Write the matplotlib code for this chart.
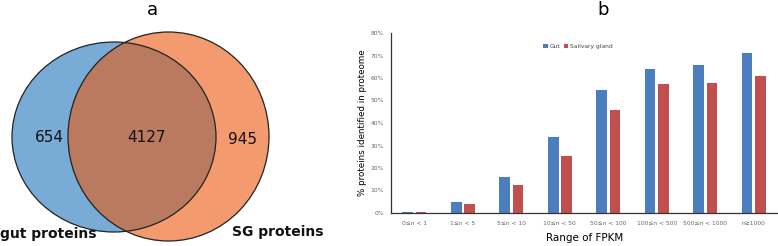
import matplotlib
matplotlib.use("Agg")
import matplotlib.pyplot as plt
from matplotlib.patches import Ellipse
import numpy as np

# Data
venn_labels = ["gut proteins", "SG proteins"]
venn_counts = [654, 4127, 945]  # gut only, shared, SG only

categories = ["0≤n < 1", "1≤n < 5", "5≤n < 10", "10≤n < 50", "50≤n < 100",
              "100≤n < 500", "500≤n < 1000", "n≥1000"]
gut = [0.5, 4.7, 16.0, 33.8, 54.8, 64.0, 65.9, 71.2]
salivary = [0.5, 4.1, 12.6, 25.2, 45.8, 57.5, 58.0, 60.7]
series_names = ["Gut", "Salivary gland"]

W, H = 778, 246
fig = plt.figure(figsize=(W / 100, H / 100), dpi=100)

# ---- Panel a: Venn ----
va = fig.add_axes([0, 0, 1, 1])
va.set_xlim(0, W)
va.set_ylim(H, 0)
va.axis("off")

blue_c = "#78acd6"
orange_c = "#f39b6e"
over_c = "#b97a5f"
e_blue = Ellipse((114, 137), 204, 190, facecolor=blue_c, edgecolor="none", zorder=1)
e_orange = Ellipse((168.5, 136.5), 201, 209, facecolor=orange_c, edgecolor="none", zorder=1)
va.add_patch(e_blue)
va.add_patch(e_orange)
e_over = Ellipse((114, 137), 204, 190, facecolor=over_c, edgecolor="none", zorder=2)
va.add_patch(e_over)
e_over.set_clip_path(e_orange)
va.add_patch(Ellipse((114, 137), 204, 190, facecolor="none", edgecolor="#222222", lw=0.9, zorder=3))
va.add_patch(Ellipse((168.5, 136.5), 201, 209, facecolor="none", edgecolor="#222222", lw=0.9, zorder=3))

va.text(49, 138, str(venn_counts[0]), ha="center", va="center", fontsize=11, color="#111111", zorder=4)
va.text(147, 138, str(venn_counts[1]), ha="center", va="center", fontsize=11, color="#111111", zorder=4)
va.text(243, 139, str(venn_counts[2]), ha="center", va="center", fontsize=11, color="#111111", zorder=4)
va.text(0, 234, venn_labels[0], ha="left", va="center", fontsize=10, fontweight="bold", color="#111111")
va.text(278, 232, venn_labels[1], ha="center", va="center", fontsize=10, fontweight="bold", color="#111111")
va.text(152, 10, "a", ha="center", va="center", fontsize=13)
va.text(603, 10, "b", ha="center", va="center", fontsize=13)

# ---- Panel b: bar chart ----
ax = fig.add_axes([391 / W, 1 - 213 / H, (778 - 391) / W, (213 - 33) / H])
x = np.arange(len(categories))
bw = 0.226
ax.bar(x - 0.139, gut, bw, color="#4a7ebf", label=series_names[0])
ax.bar(x + 0.139, salivary, bw, color="#c0504d", label=series_names[1])
ax.set_xlim(-0.48, len(categories) - 0.5)
ax.set_ylim(0, 80)
ax.set_yticks(np.arange(0, 81, 10))
ax.set_yticklabels([f"{v}%" for v in range(0, 81, 10)], fontsize=4.3, color="#666666")
ax.set_xticks(x)
ax.set_xticklabels(categories, fontsize=4.3, color="#666666")
ax.tick_params(axis="x", length=0, pad=6)
ax.tick_params(axis="y", length=0, pad=5)
for s in ["top", "right"]:
    ax.spines[s].set_visible(False)
ax.spines["left"].set_color("#333333")
ax.spines["bottom"].set_color("#333333")
ax.spines["left"].set_linewidth(0.9)
ax.spines["bottom"].set_linewidth(0.9)
ax.set_ylabel("% proteins identified in proteome", fontsize=6.3, labelpad=3)
ax.set_xlabel("Range of FPKM", fontsize=7.5, labelpad=5)
ax.legend(loc="upper left", bbox_to_anchor=(0.38, 0.97), ncol=2, fontsize=4.3, frameon=False,
          handlelength=0.7, handleheight=0.7, handletextpad=0.3, columnspacing=0.6, labelcolor="#444444")
ax.patch.set_alpha(0)

fig.savefig("out.png", dpi=100)
